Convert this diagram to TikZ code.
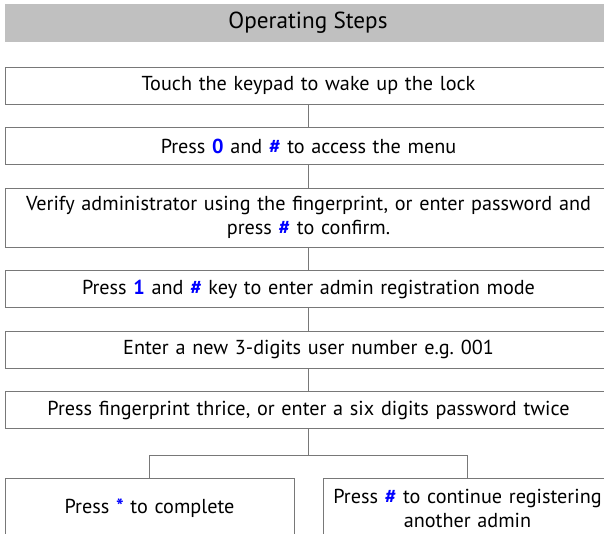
\documentclass[tikz,border=0pt]{standalone}
\usepackage{fontspec}
\setmainfont{PT Sans}
\definecolor{KeyBlue}{RGB}{0, 0, 255}
\definecolor{LineGray}{RGB}{120, 120, 120}
\definecolor{BarGray}{RGB}{192, 192, 192}
\usetikzlibrary{positioning}
\newcommand{\presskey}[1]{\textbf{\textcolor{KeyBlue}{#1}}}

\begin{document}
\begin{tikzpicture}[x=1pt, y=-1pt,
        node distance=22.5pt,
        headbar/.style={inner sep=0pt, font=\fontsize{23.2}{26}\selectfont},
        stepbox/.style={rectangle, draw=LineGray, line width=1pt, text width=595pt, minimum height=37pt, align=center, inner sep=6pt, font=\fontsize{20.2}{24.5}\selectfont},
        choice/.style={stepbox, text width=285pt, minimum height=60pt, inner sep=2pt},
        link/.style={draw=LineGray, line width=1pt}
    ]
        \clip (0,0) rectangle (604,533);
        \fill[BarGray] (5,4) rectangle (612,42);
        \node[headbar] (head) at (308,23) {Operating Steps};

        \node[stepbox] (wake) at (308.5,85.5) {Touch the keypad to wake up the lock};
        \node[stepbox, below=of wake] (menu) {Press \presskey{0} and \presskey{\#} to access the menu};
        \node[stepbox, below=of menu, minimum height=59pt] (admin) {Verify administrator using the fingerprint, or enter password and\\ press \presskey{\#} to confirm.};
        \node[stepbox, below=of admin] (mode) {Press \presskey{1} and \presskey{\#} key to enter admin registration mode};
        \node[stepbox, below=of mode] (number) {Enter a new 3-digits user number e.g.\ 001};
        \node[stepbox, below=of number] (twice) {Press fingerprint thrice, or enter a six digits password twice};

        \node[choice, anchor=north west] (done) at ([yshift=-49pt]twice.south west) {Press \presskey{*} to complete};
        \node[choice, right=28pt of done] (more) {Press \presskey{\#} to continue registering\\ another admin};

        \draw[link] (wake) -- (menu);
        \draw[link] (menu) -- (admin);
        \draw[link] (admin) -- (mode);
        \draw[link] (mode) -- (number);
        \draw[link] (number) -- (twice);
        \draw[link] (twice.south) -- ++(0,26) -| (done.north);
        \draw[link] (twice.south) -- ++(0,26) -| (more.north);
    \end{tikzpicture}
\end{document}
